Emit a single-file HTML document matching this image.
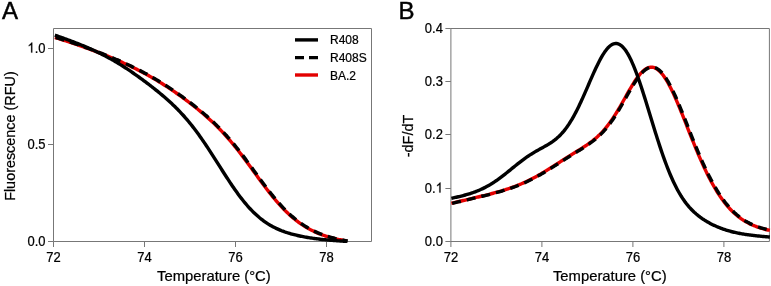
<!DOCTYPE html>
<html><head><meta charset="utf-8"><style>
html,body{margin:0;padding:0;background:#fff;}
body{width:771px;height:286px;overflow:hidden;}
svg{display:block;will-change:transform;}
text{font-family:"Liberation Sans",sans-serif;fill:#000;stroke:#000;stroke-width:0.22px;}
.tk{font-size:13px;}
.lg{font-size:12px;}
.ax{font-size:14.4px;}
.ax2{font-size:14.8px;}
.pl{font-size:24px;stroke-width:0.45px;}
</style></head><body>
<svg width="771" height="286" viewBox="0 0 771 286">
<rect width="771" height="286" fill="#fff"/>
<path d="M53.5 28.5 H371.5 V241.5 H53.5 Z" fill="none" stroke="#777" stroke-width="1"/>
<line x1="53.5" y1="241.5" x2="53.5" y2="247.0" stroke="#777" stroke-width="1"/>
<text transform="translate(53.5 261.6) scale(1 1.08)" text-anchor="middle" class="tk">72</text>
<line x1="144.5" y1="241.5" x2="144.5" y2="247.0" stroke="#777" stroke-width="1"/>
<text transform="translate(144.5 261.6) scale(1 1.08)" text-anchor="middle" class="tk">74</text>
<line x1="235.5" y1="241.5" x2="235.5" y2="247.0" stroke="#777" stroke-width="1"/>
<text transform="translate(235.5 261.6) scale(1 1.08)" text-anchor="middle" class="tk">76</text>
<line x1="326.5" y1="241.5" x2="326.5" y2="247.0" stroke="#777" stroke-width="1"/>
<text transform="translate(326.5 261.6) scale(1 1.08)" text-anchor="middle" class="tk">78</text>
<line x1="48.0" y1="241.5" x2="53.5" y2="241.5" stroke="#777" stroke-width="1"/>
<text transform="translate(45.5 245.6) scale(1 1.08)" text-anchor="end" class="tk">0.0</text>
<line x1="48.0" y1="144.5" x2="53.5" y2="144.5" stroke="#777" stroke-width="1"/>
<text transform="translate(45.5 148.6) scale(1 1.08)" text-anchor="end" class="tk">0.5</text>
<line x1="48.0" y1="48.5" x2="53.5" y2="48.5" stroke="#777" stroke-width="1"/>
<path d="M372 0H284V560Q252 530 200 499Q148 469 106 453V538Q182 574 239 625Q296 676 320 716H372Z" transform="translate(27.430 52.600) scale(0.01300 -0.01404)" fill="#000" stroke="#000" stroke-width="16.92"/>
<text transform="translate(34.658 52.600) scale(1 1.08)" class="tk">.</text>
<text transform="translate(38.272 52.600) scale(1 1.08)" class="tk">0</text><path d="M450.9 28.5 H769.4 V241.5 H450.9 Z" fill="none" stroke="#777" stroke-width="1"/>
<line x1="450.9" y1="241.5" x2="450.9" y2="247.0" stroke="#777" stroke-width="1"/>
<text transform="translate(450.9 261.6) scale(1 1.08)" text-anchor="middle" class="tk">72</text>
<line x1="541.9" y1="241.5" x2="541.9" y2="247.0" stroke="#777" stroke-width="1"/>
<text transform="translate(541.9 261.6) scale(1 1.08)" text-anchor="middle" class="tk">74</text>
<line x1="632.9" y1="241.5" x2="632.9" y2="247.0" stroke="#777" stroke-width="1"/>
<text transform="translate(632.9 261.6) scale(1 1.08)" text-anchor="middle" class="tk">76</text>
<line x1="723.9" y1="241.5" x2="723.9" y2="247.0" stroke="#777" stroke-width="1"/>
<text transform="translate(723.9 261.6) scale(1 1.08)" text-anchor="middle" class="tk">78</text>
<line x1="445.4" y1="241.5" x2="450.9" y2="241.5" stroke="#777" stroke-width="1"/>
<text transform="translate(442.9 245.6) scale(1 1.08)" text-anchor="end" class="tk">0.0</text>
<line x1="445.4" y1="188.5" x2="450.9" y2="188.5" stroke="#777" stroke-width="1"/>
<text transform="translate(424.830 192.600) scale(1 1.08)" class="tk">0</text>
<text transform="translate(432.058 192.600) scale(1 1.08)" class="tk">.</text>
<path d="M372 0H284V560Q252 530 200 499Q148 469 106 453V538Q182 574 239 625Q296 676 320 716H372Z" transform="translate(435.672 192.600) scale(0.01300 -0.01404)" fill="#000" stroke="#000" stroke-width="16.92"/>
<line x1="445.4" y1="134.5" x2="450.9" y2="134.5" stroke="#777" stroke-width="1"/>
<text transform="translate(442.9 138.6) scale(1 1.08)" text-anchor="end" class="tk">0.2</text>
<line x1="445.4" y1="81.5" x2="450.9" y2="81.5" stroke="#777" stroke-width="1"/>
<text transform="translate(442.9 85.6) scale(1 1.08)" text-anchor="end" class="tk">0.3</text>
<line x1="445.4" y1="28.5" x2="450.9" y2="28.5" stroke="#777" stroke-width="1"/>
<text transform="translate(442.9 32.6) scale(1 1.08)" text-anchor="end" class="tk">0.4</text>

<path d="M54.87 37.86 L55.99 38.20 L57.11 38.54 L58.24 38.89 L59.36 39.24 L60.48 39.59 L61.61 39.94 L62.73 40.30 L63.85 40.66 L64.98 41.02 L66.10 41.38 L67.22 41.75 L68.35 42.12 L69.47 42.49 L70.59 42.86 L71.72 43.24 L72.84 43.61 L73.96 43.99 L75.09 44.38 L76.21 44.76 L77.33 45.15 L78.46 45.54 L79.58 45.93 L80.71 46.32 L81.83 46.72 L82.95 47.12 L84.08 47.52 L85.20 47.93 L86.32 48.33 L87.45 48.74 L88.57 49.15 L89.69 49.57 L90.82 49.98 L91.94 50.40 L93.06 50.82 L94.19 51.25 L95.31 51.67 L96.43 52.10 L97.56 52.53 L98.68 52.97 L99.81 53.41 L100.93 53.85 L102.05 54.29 L103.18 54.74 L104.30 55.18 L105.42 55.64 L106.55 56.09 L107.67 56.55 L108.79 57.01 L109.92 57.48 L111.04 57.94 L112.16 58.41 L113.29 58.89 L114.41 59.37 L115.53 59.85 L116.66 60.33 L117.78 60.82 L118.90 61.32 L120.03 61.81 L121.15 62.31 L122.28 62.82 L123.40 63.33 L124.52 63.84 L125.65 64.36 L126.77 64.88 L127.89 65.41 L129.02 65.94 L130.14 66.47 L131.26 67.01 L132.39 67.56 L133.51 68.11 L134.63 68.66 L135.76 69.22 L136.88 69.79 L138.00 70.36 L139.13 70.94 L140.25 71.52 L141.37 72.11 L142.50 72.70 L143.62 73.30 L144.74 73.91 L145.87 74.52 L146.99 75.14 L148.12 75.76 L149.24 76.39 L150.36 77.02 L151.49 77.66 L152.61 78.31 L153.73 78.97 L154.86 79.63 L155.98 80.29 L157.10 80.97 L158.23 81.65 L159.35 82.33 L160.47 83.02 L161.60 83.72 L162.72 84.43 L163.84 85.14 L164.97 85.86 L166.09 86.58 L167.22 87.31 L168.34 88.05 L169.46 88.79 L170.59 89.54 L171.71 90.30 L172.83 91.06 L173.96 91.83 L175.08 92.60 L176.20 93.39 L177.33 94.17 L178.45 94.97 L179.57 95.77 L180.70 96.57 L181.82 97.38 L182.94 98.20 L184.07 99.03 L185.19 99.86 L186.31 100.70 L187.44 101.54 L188.56 102.39 L189.69 103.25 L190.81 104.11 L191.93 104.98 L193.06 105.86 L194.18 106.75 L195.30 107.64 L196.43 108.54 L197.55 109.45 L198.67 110.37 L199.80 111.29 L200.92 112.23 L202.04 113.17 L203.17 114.13 L204.29 115.09 L205.41 116.06 L206.54 117.05 L207.66 118.05 L208.78 119.06 L209.91 120.08 L211.03 121.11 L212.16 122.16 L213.28 123.22 L214.40 124.30 L215.53 125.39 L216.65 126.49 L217.77 127.61 L218.90 128.75 L220.02 129.90 L221.14 131.07 L222.27 132.26 L223.39 133.46 L224.51 134.68 L225.64 135.92 L226.76 137.17 L227.88 138.45 L229.01 139.74 L230.13 141.05 L231.25 142.38 L232.38 143.72 L233.50 145.08 L234.62 146.46 L235.75 147.86 L236.87 149.27 L238.00 150.70 L239.12 152.14 L240.24 153.59 L241.37 155.06 L242.49 156.54 L243.61 158.04 L244.74 159.54 L245.86 161.06 L246.98 162.58 L248.11 164.11 L249.23 165.65 L250.35 167.19 L251.48 168.74 L252.60 170.29 L253.72 171.84 L254.85 173.40 L255.97 174.95 L257.10 176.49 L258.22 178.04 L259.34 179.58 L260.47 181.11 L261.59 182.64 L262.71 184.16 L263.84 185.66 L264.96 187.16 L266.08 188.64 L267.21 190.11 L268.33 191.56 L269.45 193.00 L270.58 194.42 L271.70 195.83 L272.82 197.21 L273.95 198.58 L275.07 199.92 L276.19 201.25 L277.32 202.55 L278.44 203.83 L279.57 205.08 L280.69 206.32 L281.81 207.53 L282.94 208.71 L284.06 209.87 L285.18 211.01 L286.31 212.12 L287.43 213.21 L288.55 214.27 L289.68 215.30 L290.80 216.32 L291.92 217.30 L293.05 218.26 L294.17 219.19 L295.29 220.10 L296.42 220.99 L297.54 221.85 L298.66 222.69 L299.79 223.50 L300.91 224.29 L302.03 225.05 L303.16 225.79 L304.28 226.51 L305.41 227.21 L306.53 227.88 L307.65 228.53 L308.78 229.17 L309.90 229.78 L311.02 230.37 L312.15 230.94 L313.27 231.49 L314.39 232.02 L315.52 232.54 L316.64 233.04 L317.76 233.51 L318.89 233.98 L320.01 234.42 L321.13 234.85 L322.26 235.27 L323.38 235.67 L324.51 236.05 L325.63 236.42 L326.75 236.78 L327.88 237.12 L329.00 237.46 L330.12 237.78 L331.25 238.08 L332.37 238.38 L333.49 238.67 L334.62 238.94 L335.74 239.21 L336.86 239.46 L337.99 239.71 L339.11 239.95 L340.23 240.18 L341.36 240.40 L342.48 240.61 L343.60 240.82 L344.73 241.02 L345.85 241.21 L346.98 241.40" fill="none" stroke="#e30000" stroke-width="3.4" stroke-linejoin="round" transform="translate(0 -0.4)"/>
<path d="M54.87 37.86 L55.99 38.20 L57.11 38.54 L58.24 38.89 L59.36 39.24 L60.48 39.59 L61.61 39.94 L62.73 40.30 L63.85 40.66 L64.98 41.02 L66.10 41.38 L67.22 41.75 L68.35 42.12 L69.47 42.49 L70.59 42.86 L71.72 43.24 L72.84 43.61 L73.96 43.99 L75.09 44.38 L76.21 44.76 L77.33 45.15 L78.46 45.54 L79.58 45.93 L80.71 46.32 L81.83 46.72 L82.95 47.12 L84.08 47.52 L85.20 47.93 L86.32 48.33 L87.45 48.74 L88.57 49.15 L89.69 49.57 L90.82 49.98 L91.94 50.40 L93.06 50.82 L94.19 51.25 L95.31 51.67 L96.43 52.10 L97.56 52.53 L98.68 52.97 L99.81 53.41 L100.93 53.85 L102.05 54.29 L103.18 54.74 L104.30 55.18 L105.42 55.64 L106.55 56.09 L107.67 56.55 L108.79 57.01 L109.92 57.48 L111.04 57.94 L112.16 58.41 L113.29 58.89 L114.41 59.37 L115.53 59.85 L116.66 60.33 L117.78 60.82 L118.90 61.32 L120.03 61.81 L121.15 62.31 L122.28 62.82 L123.40 63.33 L124.52 63.84 L125.65 64.36 L126.77 64.88 L127.89 65.41 L129.02 65.94 L130.14 66.47 L131.26 67.01 L132.39 67.56 L133.51 68.11 L134.63 68.66 L135.76 69.22 L136.88 69.79 L138.00 70.36 L139.13 70.94 L140.25 71.52 L141.37 72.11 L142.50 72.70 L143.62 73.30 L144.74 73.91 L145.87 74.52 L146.99 75.14 L148.12 75.76 L149.24 76.39 L150.36 77.02 L151.49 77.66 L152.61 78.31 L153.73 78.97 L154.86 79.63 L155.98 80.29 L157.10 80.97 L158.23 81.65 L159.35 82.33 L160.47 83.02 L161.60 83.72 L162.72 84.43 L163.84 85.14 L164.97 85.86 L166.09 86.58 L167.22 87.31 L168.34 88.05 L169.46 88.79 L170.59 89.54 L171.71 90.30 L172.83 91.06 L173.96 91.83 L175.08 92.60 L176.20 93.39 L177.33 94.17 L178.45 94.97 L179.57 95.77 L180.70 96.57 L181.82 97.38 L182.94 98.20 L184.07 99.03 L185.19 99.86 L186.31 100.70 L187.44 101.54 L188.56 102.39 L189.69 103.25 L190.81 104.11 L191.93 104.98 L193.06 105.86 L194.18 106.75 L195.30 107.64 L196.43 108.54 L197.55 109.45 L198.67 110.37 L199.80 111.29 L200.92 112.23 L202.04 113.17 L203.17 114.13 L204.29 115.09 L205.41 116.06 L206.54 117.05 L207.66 118.05 L208.78 119.06 L209.91 120.08 L211.03 121.11 L212.16 122.16 L213.28 123.22 L214.40 124.30 L215.53 125.39 L216.65 126.49 L217.77 127.61 L218.90 128.75 L220.02 129.90 L221.14 131.07 L222.27 132.26 L223.39 133.46 L224.51 134.68 L225.64 135.92 L226.76 137.17 L227.88 138.45 L229.01 139.74 L230.13 141.05 L231.25 142.38 L232.38 143.72 L233.50 145.08 L234.62 146.46 L235.75 147.86 L236.87 149.27 L238.00 150.70 L239.12 152.14 L240.24 153.59 L241.37 155.06 L242.49 156.54 L243.61 158.04 L244.74 159.54 L245.86 161.06 L246.98 162.58 L248.11 164.11 L249.23 165.65 L250.35 167.19 L251.48 168.74 L252.60 170.29 L253.72 171.84 L254.85 173.40 L255.97 174.95 L257.10 176.49 L258.22 178.04 L259.34 179.58 L260.47 181.11 L261.59 182.64 L262.71 184.16 L263.84 185.66 L264.96 187.16 L266.08 188.64 L267.21 190.11 L268.33 191.56 L269.45 193.00 L270.58 194.42 L271.70 195.83 L272.82 197.21 L273.95 198.58 L275.07 199.92 L276.19 201.25 L277.32 202.55 L278.44 203.83 L279.57 205.08 L280.69 206.32 L281.81 207.53 L282.94 208.71 L284.06 209.87 L285.18 211.01 L286.31 212.12 L287.43 213.21 L288.55 214.27 L289.68 215.30 L290.80 216.32 L291.92 217.30 L293.05 218.26 L294.17 219.19 L295.29 220.10 L296.42 220.99 L297.54 221.85 L298.66 222.69 L299.79 223.50 L300.91 224.29 L302.03 225.05 L303.16 225.79 L304.28 226.51 L305.41 227.21 L306.53 227.88 L307.65 228.53 L308.78 229.17 L309.90 229.78 L311.02 230.37 L312.15 230.94 L313.27 231.49 L314.39 232.02 L315.52 232.54 L316.64 233.04 L317.76 233.51 L318.89 233.98 L320.01 234.42 L321.13 234.85 L322.26 235.27 L323.38 235.67 L324.51 236.05 L325.63 236.42 L326.75 236.78 L327.88 237.12 L329.00 237.46 L330.12 237.78 L331.25 238.08 L332.37 238.38 L333.49 238.67 L334.62 238.94 L335.74 239.21 L336.86 239.46 L337.99 239.71 L339.11 239.95 L340.23 240.18 L341.36 240.40 L342.48 240.61 L343.60 240.82 L344.73 241.02 L345.85 241.21 L346.98 241.40" fill="none" stroke="#000" stroke-width="3.4" stroke-dasharray="9 6" transform="translate(0.8 -0.4)"/>
<path d="M54.87 35.17 L55.99 35.56 L57.11 35.95 L58.24 36.34 L59.36 36.74 L60.48 37.13 L61.61 37.53 L62.73 37.94 L63.85 38.34 L64.98 38.75 L66.10 39.16 L67.22 39.57 L68.35 39.99 L69.47 40.41 L70.59 40.83 L71.72 41.25 L72.84 41.68 L73.96 42.11 L75.09 42.55 L76.21 42.98 L77.33 43.43 L78.46 43.87 L79.58 44.32 L80.71 44.77 L81.83 45.23 L82.95 45.69 L84.08 46.16 L85.20 46.63 L86.32 47.10 L87.45 47.58 L88.57 48.07 L89.69 48.56 L90.82 49.05 L91.94 49.56 L93.06 50.06 L94.19 50.58 L95.31 51.10 L96.43 51.62 L97.56 52.16 L98.68 52.70 L99.81 53.24 L100.93 53.80 L102.05 54.36 L103.18 54.93 L104.30 55.50 L105.42 56.09 L106.55 56.68 L107.67 57.28 L108.79 57.88 L109.92 58.50 L111.04 59.12 L112.16 59.76 L113.29 60.39 L114.41 61.04 L115.53 61.70 L116.66 62.36 L117.78 63.04 L118.90 63.72 L120.03 64.41 L121.15 65.10 L122.28 65.81 L123.40 66.52 L124.52 67.24 L125.65 67.97 L126.77 68.70 L127.89 69.45 L129.02 70.20 L130.14 70.95 L131.26 71.72 L132.39 72.49 L133.51 73.27 L134.63 74.05 L135.76 74.84 L136.88 75.63 L138.00 76.44 L139.13 77.24 L140.25 78.06 L141.37 78.88 L142.50 79.70 L143.62 80.53 L144.74 81.37 L145.87 82.21 L146.99 83.06 L148.12 83.91 L149.24 84.77 L150.36 85.63 L151.49 86.50 L152.61 87.38 L153.73 88.26 L154.86 89.15 L155.98 90.05 L157.10 90.95 L158.23 91.86 L159.35 92.78 L160.47 93.71 L161.60 94.65 L162.72 95.59 L163.84 96.55 L164.97 97.52 L166.09 98.50 L167.22 99.49 L168.34 100.49 L169.46 101.51 L170.59 102.54 L171.71 103.59 L172.83 104.65 L173.96 105.73 L175.08 106.82 L176.20 107.93 L177.33 109.06 L178.45 110.21 L179.57 111.38 L180.70 112.57 L181.82 113.78 L182.94 115.01 L184.07 116.26 L185.19 117.53 L186.31 118.82 L187.44 120.14 L188.56 121.48 L189.69 122.85 L190.81 124.23 L191.93 125.64 L193.06 127.08 L194.18 128.53 L195.30 130.01 L196.43 131.51 L197.55 133.04 L198.67 134.58 L199.80 136.15 L200.92 137.74 L202.04 139.35 L203.17 140.98 L204.29 142.62 L205.41 144.28 L206.54 145.96 L207.66 147.66 L208.78 149.37 L209.91 151.09 L211.03 152.83 L212.16 154.57 L213.28 156.32 L214.40 158.08 L215.53 159.85 L216.65 161.62 L217.77 163.39 L218.90 165.17 L220.02 166.94 L221.14 168.71 L222.27 170.48 L223.39 172.24 L224.51 173.99 L225.64 175.74 L226.76 177.47 L227.88 179.20 L229.01 180.91 L230.13 182.60 L231.25 184.28 L232.38 185.93 L233.50 187.57 L234.62 189.19 L235.75 190.78 L236.87 192.35 L238.00 193.90 L239.12 195.42 L240.24 196.91 L241.37 198.38 L242.49 199.81 L243.61 201.22 L244.74 202.60 L245.86 203.94 L246.98 205.25 L248.11 206.54 L249.23 207.78 L250.35 209.00 L251.48 210.18 L252.60 211.33 L253.72 212.45 L254.85 213.54 L255.97 214.59 L257.10 215.61 L258.22 216.59 L259.34 217.55 L260.47 218.47 L261.59 219.36 L262.71 220.22 L263.84 221.05 L264.96 221.85 L266.08 222.62 L267.21 223.37 L268.33 224.08 L269.45 224.77 L270.58 225.43 L271.70 226.07 L272.82 226.68 L273.95 227.27 L275.07 227.83 L276.19 228.38 L277.32 228.90 L278.44 229.40 L279.57 229.88 L280.69 230.34 L281.81 230.79 L282.94 231.21 L284.06 231.62 L285.18 232.02 L286.31 232.39 L287.43 232.76 L288.55 233.11 L289.68 233.45 L290.80 233.77 L291.92 234.08 L293.05 234.38 L294.17 234.67 L295.29 234.95 L296.42 235.22 L297.54 235.48 L298.66 235.74 L299.79 235.98 L300.91 236.21 L302.03 236.44 L303.16 236.66 L304.28 236.87 L305.41 237.07 L306.53 237.27 L307.65 237.46 L308.78 237.65 L309.90 237.83 L311.02 238.00 L312.15 238.17 L313.27 238.33 L314.39 238.48 L315.52 238.63 L316.64 238.78 L317.76 238.92 L318.89 239.06 L320.01 239.19 L321.13 239.32 L322.26 239.45 L323.38 239.57 L324.51 239.68 L325.63 239.79 L326.75 239.90 L327.88 240.01 L329.00 240.11 L330.12 240.21 L331.25 240.31 L332.37 240.40 L333.49 240.49 L334.62 240.58 L335.74 240.67 L336.86 240.75 L337.99 240.83 L339.11 240.91 L340.23 240.98 L341.36 241.06 L342.48 241.13 L343.60 241.20 L344.73 241.27 L345.85 241.33 L346.98 241.40" fill="none" stroke="#000" stroke-width="3.4" stroke-linejoin="round"/>
<path d="M451.36 203.38 L452.35 203.14 L453.35 202.90 L454.34 202.66 L455.34 202.42 L456.33 202.18 L457.33 201.94 L458.32 201.70 L459.32 201.47 L460.31 201.23 L461.31 200.99 L462.30 200.76 L463.30 200.52 L464.29 200.28 L465.29 200.05 L466.28 199.81 L467.28 199.58 L468.28 199.34 L469.27 199.11 L470.27 198.87 L471.26 198.64 L472.26 198.40 L473.25 198.17 L474.25 197.93 L475.24 197.69 L476.24 197.46 L477.23 197.22 L478.23 196.98 L479.22 196.74 L480.22 196.50 L481.21 196.26 L482.21 196.02 L483.21 195.78 L484.20 195.53 L485.20 195.29 L486.19 195.04 L487.19 194.79 L488.18 194.54 L489.18 194.29 L490.17 194.03 L491.17 193.77 L492.16 193.51 L493.16 193.25 L494.15 192.98 L495.15 192.71 L496.14 192.44 L497.14 192.16 L498.13 191.88 L499.13 191.60 L500.13 191.31 L501.12 191.02 L502.12 190.72 L503.11 190.42 L504.11 190.11 L505.10 189.80 L506.10 189.48 L507.09 189.16 L508.09 188.83 L509.08 188.49 L510.08 188.15 L511.07 187.80 L512.07 187.45 L513.06 187.09 L514.06 186.72 L515.06 186.35 L516.05 185.97 L517.05 185.58 L518.04 185.18 L519.04 184.78 L520.03 184.37 L521.03 183.95 L522.02 183.52 L523.02 183.08 L524.01 182.64 L525.01 182.19 L526.00 181.73 L527.00 181.26 L527.99 180.78 L528.99 180.30 L529.98 179.80 L530.98 179.30 L531.98 178.79 L532.97 178.27 L533.97 177.75 L534.96 177.21 L535.96 176.67 L536.95 176.12 L537.95 175.57 L538.94 175.00 L539.94 174.43 L540.93 173.86 L541.93 173.27 L542.92 172.68 L543.92 172.09 L544.91 171.49 L545.91 170.88 L546.90 170.27 L547.90 169.66 L548.90 169.04 L549.89 168.41 L550.89 167.79 L551.88 167.16 L552.88 166.53 L553.87 165.89 L554.87 165.26 L555.86 164.62 L556.86 163.98 L557.85 163.34 L558.85 162.71 L559.84 162.07 L560.84 161.43 L561.83 160.79 L562.83 160.16 L563.83 159.52 L564.82 158.89 L565.82 158.26 L566.81 157.63 L567.81 157.00 L568.80 156.38 L569.80 155.76 L570.79 155.14 L571.79 154.52 L572.78 153.90 L573.78 153.28 L574.77 152.66 L575.77 152.05 L576.76 151.43 L577.76 150.81 L578.76 150.20 L579.75 149.57 L580.75 148.95 L581.74 148.32 L582.74 147.68 L583.73 147.04 L584.73 146.39 L585.72 145.73 L586.72 145.06 L587.71 144.38 L588.71 143.69 L589.70 142.97 L590.70 142.25 L591.69 141.50 L592.69 140.73 L593.68 139.94 L594.68 139.13 L595.68 138.29 L596.67 137.42 L597.67 136.53 L598.66 135.60 L599.66 134.64 L600.65 133.65 L601.65 132.62 L602.64 131.55 L603.64 130.45 L604.63 129.31 L605.63 128.13 L606.62 126.90 L607.62 125.64 L608.61 124.34 L609.61 122.99 L610.61 121.61 L611.60 120.18 L612.60 118.72 L613.59 117.21 L614.59 115.67 L615.58 114.10 L616.58 112.49 L617.57 110.85 L618.57 109.18 L619.56 107.49 L620.56 105.77 L621.55 104.03 L622.55 102.28 L623.54 100.52 L624.54 98.75 L625.53 96.98 L626.53 95.21 L627.53 93.45 L628.52 91.70 L629.52 89.97 L630.51 88.26 L631.51 86.58 L632.50 84.93 L633.50 83.33 L634.49 81.77 L635.49 80.26 L636.48 78.81 L637.48 77.42 L638.47 76.10 L639.47 74.86 L640.46 73.69 L641.46 72.60 L642.46 71.60 L643.45 70.70 L644.45 69.89 L645.44 69.18 L646.44 68.57 L647.43 68.08 L648.43 67.69 L649.42 67.41 L650.42 67.24 L651.41 67.19 L652.41 67.26 L653.40 67.44 L654.40 67.74 L655.39 68.16 L656.39 68.69 L657.38 69.34 L658.38 70.10 L659.38 70.97 L660.37 71.96 L661.37 73.05 L662.36 74.25 L663.36 75.55 L664.35 76.95 L665.35 78.45 L666.34 80.04 L667.34 81.72 L668.33 83.48 L669.33 85.32 L670.32 87.24 L671.32 89.22 L672.31 91.28 L673.31 93.39 L674.31 95.57 L675.30 97.80 L676.30 100.07 L677.29 102.39 L678.29 104.75 L679.28 107.14 L680.28 109.56 L681.27 112.01 L682.27 114.48 L683.26 116.96 L684.26 119.46 L685.25 121.97 L686.25 124.49 L687.24 127.01 L688.24 129.52 L689.23 132.04 L690.23 134.54 L691.23 137.03 L692.22 139.52 L693.22 141.98 L694.21 144.43 L695.21 146.85 L696.20 149.25 L697.20 151.63 L698.19 153.98 L699.19 156.30 L700.18 158.59 L701.18 160.85 L702.17 163.08 L703.17 165.27 L704.16 167.42 L705.16 169.54 L706.15 171.61 L707.15 173.65 L708.15 175.65 L709.14 177.61 L710.14 179.53 L711.13 181.40 L712.13 183.24 L713.12 185.03 L714.12 186.78 L715.11 188.48 L716.11 190.14 L717.10 191.76 L718.10 193.34 L719.09 194.87 L720.09 196.36 L721.08 197.81 L722.08 199.22 L723.08 200.58 L724.07 201.90 L725.07 203.19 L726.06 204.43 L727.06 205.63 L728.05 206.79 L729.05 207.91 L730.04 208.99 L731.04 210.04 L732.03 211.05 L733.03 212.02 L734.02 212.96 L735.02 213.86 L736.01 214.73 L737.01 215.57 L738.01 216.38 L739.00 217.15 L740.00 217.89 L740.99 218.61 L741.99 219.29 L742.98 219.95 L743.98 220.58 L744.97 221.19 L745.97 221.77 L746.96 222.33 L747.96 222.86 L748.95 223.38 L749.95 223.87 L750.94 224.34 L751.94 224.79 L752.93 225.22 L753.93 225.64 L754.93 226.04 L755.92 226.42 L756.92 226.78 L757.91 227.14 L758.91 227.47 L759.90 227.80 L760.90 228.11 L761.89 228.41 L762.89 228.70 L763.88 228.97 L764.88 229.24 L765.87 229.50 L766.87 229.74 L767.86 229.98 L768.86 230.21 L769.86 230.43" fill="none" stroke="#e30000" stroke-width="3.4" stroke-linejoin="round"/>
<path d="M451.36 203.38 L452.35 203.14 L453.35 202.90 L454.34 202.66 L455.34 202.42 L456.33 202.18 L457.33 201.94 L458.32 201.70 L459.32 201.47 L460.31 201.23 L461.31 200.99 L462.30 200.76 L463.30 200.52 L464.29 200.28 L465.29 200.05 L466.28 199.81 L467.28 199.58 L468.28 199.34 L469.27 199.11 L470.27 198.87 L471.26 198.64 L472.26 198.40 L473.25 198.17 L474.25 197.93 L475.24 197.69 L476.24 197.46 L477.23 197.22 L478.23 196.98 L479.22 196.74 L480.22 196.50 L481.21 196.26 L482.21 196.02 L483.21 195.78 L484.20 195.53 L485.20 195.29 L486.19 195.04 L487.19 194.79 L488.18 194.54 L489.18 194.29 L490.17 194.03 L491.17 193.77 L492.16 193.51 L493.16 193.25 L494.15 192.98 L495.15 192.71 L496.14 192.44 L497.14 192.16 L498.13 191.88 L499.13 191.60 L500.13 191.31 L501.12 191.02 L502.12 190.72 L503.11 190.42 L504.11 190.11 L505.10 189.80 L506.10 189.48 L507.09 189.16 L508.09 188.83 L509.08 188.49 L510.08 188.15 L511.07 187.80 L512.07 187.45 L513.06 187.09 L514.06 186.72 L515.06 186.35 L516.05 185.97 L517.05 185.58 L518.04 185.18 L519.04 184.78 L520.03 184.37 L521.03 183.95 L522.02 183.52 L523.02 183.08 L524.01 182.64 L525.01 182.19 L526.00 181.73 L527.00 181.26 L527.99 180.78 L528.99 180.30 L529.98 179.80 L530.98 179.30 L531.98 178.79 L532.97 178.27 L533.97 177.75 L534.96 177.21 L535.96 176.67 L536.95 176.12 L537.95 175.57 L538.94 175.00 L539.94 174.43 L540.93 173.86 L541.93 173.27 L542.92 172.68 L543.92 172.09 L544.91 171.49 L545.91 170.88 L546.90 170.27 L547.90 169.66 L548.90 169.04 L549.89 168.41 L550.89 167.79 L551.88 167.16 L552.88 166.53 L553.87 165.89 L554.87 165.26 L555.86 164.62 L556.86 163.98 L557.85 163.34 L558.85 162.71 L559.84 162.07 L560.84 161.43 L561.83 160.79 L562.83 160.16 L563.83 159.52 L564.82 158.89 L565.82 158.26 L566.81 157.63 L567.81 157.00 L568.80 156.38 L569.80 155.76 L570.79 155.14 L571.79 154.52 L572.78 153.90 L573.78 153.28 L574.77 152.66 L575.77 152.05 L576.76 151.43 L577.76 150.81 L578.76 150.20 L579.75 149.57 L580.75 148.95 L581.74 148.32 L582.74 147.68 L583.73 147.04 L584.73 146.39 L585.72 145.73 L586.72 145.06 L587.71 144.38 L588.71 143.69 L589.70 142.97 L590.70 142.25 L591.69 141.50 L592.69 140.73 L593.68 139.94 L594.68 139.13 L595.68 138.29 L596.67 137.42 L597.67 136.53 L598.66 135.60 L599.66 134.64 L600.65 133.65 L601.65 132.62 L602.64 131.55 L603.64 130.45 L604.63 129.31 L605.63 128.13 L606.62 126.90 L607.62 125.64 L608.61 124.34 L609.61 122.99 L610.61 121.61 L611.60 120.18 L612.60 118.72 L613.59 117.21 L614.59 115.67 L615.58 114.10 L616.58 112.49 L617.57 110.85 L618.57 109.18 L619.56 107.49 L620.56 105.77 L621.55 104.03 L622.55 102.28 L623.54 100.52 L624.54 98.75 L625.53 96.98 L626.53 95.21 L627.53 93.45 L628.52 91.70 L629.52 89.97 L630.51 88.26 L631.51 86.58 L632.50 84.93 L633.50 83.33 L634.49 81.77 L635.49 80.26 L636.48 78.81 L637.48 77.42 L638.47 76.10 L639.47 74.86 L640.46 73.69 L641.46 72.60 L642.46 71.60 L643.45 70.70 L644.45 69.89 L645.44 69.18 L646.44 68.57 L647.43 68.08 L648.43 67.69 L649.42 67.41 L650.42 67.24 L651.41 67.19 L652.41 67.26 L653.40 67.44 L654.40 67.74 L655.39 68.16 L656.39 68.69 L657.38 69.34 L658.38 70.10 L659.38 70.97 L660.37 71.96 L661.37 73.05 L662.36 74.25 L663.36 75.55 L664.35 76.95 L665.35 78.45 L666.34 80.04 L667.34 81.72 L668.33 83.48 L669.33 85.32 L670.32 87.24 L671.32 89.22 L672.31 91.28 L673.31 93.39 L674.31 95.57 L675.30 97.80 L676.30 100.07 L677.29 102.39 L678.29 104.75 L679.28 107.14 L680.28 109.56 L681.27 112.01 L682.27 114.48 L683.26 116.96 L684.26 119.46 L685.25 121.97 L686.25 124.49 L687.24 127.01 L688.24 129.52 L689.23 132.04 L690.23 134.54 L691.23 137.03 L692.22 139.52 L693.22 141.98 L694.21 144.43 L695.21 146.85 L696.20 149.25 L697.20 151.63 L698.19 153.98 L699.19 156.30 L700.18 158.59 L701.18 160.85 L702.17 163.08 L703.17 165.27 L704.16 167.42 L705.16 169.54 L706.15 171.61 L707.15 173.65 L708.15 175.65 L709.14 177.61 L710.14 179.53 L711.13 181.40 L712.13 183.24 L713.12 185.03 L714.12 186.78 L715.11 188.48 L716.11 190.14 L717.10 191.76 L718.10 193.34 L719.09 194.87 L720.09 196.36 L721.08 197.81 L722.08 199.22 L723.08 200.58 L724.07 201.90 L725.07 203.19 L726.06 204.43 L727.06 205.63 L728.05 206.79 L729.05 207.91 L730.04 208.99 L731.04 210.04 L732.03 211.05 L733.03 212.02 L734.02 212.96 L735.02 213.86 L736.01 214.73 L737.01 215.57 L738.01 216.38 L739.00 217.15 L740.00 217.89 L740.99 218.61 L741.99 219.29 L742.98 219.95 L743.98 220.58 L744.97 221.19 L745.97 221.77 L746.96 222.33 L747.96 222.86 L748.95 223.38 L749.95 223.87 L750.94 224.34 L751.94 224.79 L752.93 225.22 L753.93 225.64 L754.93 226.04 L755.92 226.42 L756.92 226.78 L757.91 227.14 L758.91 227.47 L759.90 227.80 L760.90 228.11 L761.89 228.41 L762.89 228.70 L763.88 228.97 L764.88 229.24 L765.87 229.50 L766.87 229.74 L767.86 229.98 L768.86 230.21 L769.86 230.43" fill="none" stroke="#000" stroke-width="3.4" stroke-dasharray="9 6" transform="translate(0.8 0)"/>
<path d="M451.36 198.34 L452.35 198.12 L453.35 197.90 L454.34 197.68 L455.34 197.46 L456.33 197.23 L457.33 197.00 L458.32 196.77 L459.32 196.53 L460.31 196.29 L461.31 196.04 L462.30 195.79 L463.30 195.53 L464.29 195.26 L465.29 194.99 L466.28 194.71 L467.28 194.42 L468.28 194.13 L469.27 193.82 L470.27 193.51 L471.26 193.19 L472.26 192.85 L473.25 192.51 L474.25 192.15 L475.24 191.79 L476.24 191.41 L477.23 191.02 L478.23 190.61 L479.22 190.19 L480.22 189.76 L481.21 189.31 L482.21 188.85 L483.21 188.37 L484.20 187.88 L485.20 187.38 L486.19 186.85 L487.19 186.31 L488.18 185.76 L489.18 185.19 L490.17 184.60 L491.17 184.00 L492.16 183.38 L493.16 182.75 L494.15 182.10 L495.15 181.43 L496.14 180.75 L497.14 180.06 L498.13 179.35 L499.13 178.63 L500.13 177.90 L501.12 177.15 L502.12 176.39 L503.11 175.63 L504.11 174.85 L505.10 174.07 L506.10 173.28 L507.09 172.48 L508.09 171.68 L509.08 170.87 L510.08 170.06 L511.07 169.25 L512.07 168.44 L513.06 167.62 L514.06 166.81 L515.06 166.01 L516.05 165.20 L517.05 164.41 L518.04 163.62 L519.04 162.83 L520.03 162.06 L521.03 161.29 L522.02 160.54 L523.02 159.80 L524.01 159.06 L525.01 158.34 L526.00 157.64 L527.00 156.95 L527.99 156.27 L528.99 155.60 L529.98 154.95 L530.98 154.31 L531.98 153.69 L532.97 153.08 L533.97 152.47 L534.96 151.89 L535.96 151.31 L536.95 150.74 L537.95 150.18 L538.94 149.62 L539.94 149.07 L540.93 148.52 L541.93 147.98 L542.92 147.43 L543.92 146.88 L544.91 146.32 L545.91 145.76 L546.90 145.18 L547.90 144.59 L548.90 143.99 L549.89 143.36 L550.89 142.72 L551.88 142.05 L552.88 141.35 L553.87 140.62 L554.87 139.86 L555.86 139.06 L556.86 138.23 L557.85 137.35 L558.85 136.43 L559.84 135.46 L560.84 134.44 L561.83 133.37 L562.83 132.25 L563.83 131.08 L564.82 129.84 L565.82 128.55 L566.81 127.20 L567.81 125.79 L568.80 124.33 L569.80 122.80 L570.79 121.21 L571.79 119.55 L572.78 117.85 L573.78 116.08 L574.77 114.25 L575.77 112.37 L576.76 110.44 L577.76 108.45 L578.76 106.42 L579.75 104.34 L580.75 102.22 L581.74 100.06 L582.74 97.86 L583.73 95.64 L584.73 93.39 L585.72 91.12 L586.72 88.84 L587.71 86.55 L588.71 84.25 L589.70 81.95 L590.70 79.67 L591.69 77.39 L592.69 75.14 L593.68 72.91 L594.68 70.72 L595.68 68.57 L596.67 66.46 L597.67 64.41 L598.66 62.42 L599.66 60.50 L600.65 58.64 L601.65 56.87 L602.64 55.19 L603.64 53.59 L604.63 52.09 L605.63 50.70 L606.62 49.42 L607.62 48.25 L608.61 47.19 L609.61 46.27 L610.61 45.46 L611.60 44.79 L612.60 44.26 L613.59 43.86 L614.59 43.60 L615.58 43.49 L616.58 43.51 L617.57 43.69 L618.57 44.01 L619.56 44.48 L620.56 45.09 L621.55 45.85 L622.55 46.76 L623.54 47.81 L624.54 49.00 L625.53 50.33 L626.53 51.80 L627.53 53.41 L628.52 55.14 L629.52 57.01 L630.51 58.99 L631.51 61.10 L632.50 63.32 L633.50 65.65 L634.49 68.09 L635.49 70.62 L636.48 73.25 L637.48 75.96 L638.47 78.75 L639.47 81.62 L640.46 84.56 L641.46 87.56 L642.46 90.61 L643.45 93.72 L644.45 96.86 L645.44 100.04 L646.44 103.26 L647.43 106.49 L648.43 109.74 L649.42 113.00 L650.42 116.26 L651.41 119.52 L652.41 122.78 L653.40 126.02 L654.40 129.24 L655.39 132.44 L656.39 135.61 L657.38 138.74 L658.38 141.84 L659.38 144.89 L660.37 147.90 L661.37 150.85 L662.36 153.76 L663.36 156.60 L664.35 159.39 L665.35 162.11 L666.34 164.77 L667.34 167.36 L668.33 169.89 L669.33 172.35 L670.32 174.73 L671.32 177.04 L672.31 179.29 L673.31 181.46 L674.31 183.56 L675.30 185.58 L676.30 187.54 L677.29 189.42 L678.29 191.24 L679.28 192.99 L680.28 194.67 L681.27 196.29 L682.27 197.84 L683.26 199.33 L684.26 200.76 L685.25 202.13 L686.25 203.44 L687.24 204.71 L688.24 205.91 L689.23 207.07 L690.23 208.18 L691.23 209.25 L692.22 210.27 L693.22 211.26 L694.21 212.20 L695.21 213.10 L696.20 213.97 L697.20 214.81 L698.19 215.62 L699.19 216.39 L700.18 217.14 L701.18 217.86 L702.17 218.56 L703.17 219.23 L704.16 219.89 L705.16 220.51 L706.15 221.12 L707.15 221.71 L708.15 222.29 L709.14 222.84 L710.14 223.38 L711.13 223.90 L712.13 224.41 L713.12 224.90 L714.12 225.37 L715.11 225.83 L716.11 226.28 L717.10 226.71 L718.10 227.13 L719.09 227.54 L720.09 227.93 L721.08 228.32 L722.08 228.69 L723.08 229.04 L724.07 229.39 L725.07 229.72 L726.06 230.04 L727.06 230.35 L728.05 230.65 L729.05 230.94 L730.04 231.22 L731.04 231.48 L732.03 231.74 L733.03 231.99 L734.02 232.23 L735.02 232.46 L736.01 232.68 L737.01 232.89 L738.01 233.09 L739.00 233.29 L740.00 233.48 L740.99 233.66 L741.99 233.83 L742.98 234.00 L743.98 234.16 L744.97 234.32 L745.97 234.47 L746.96 234.62 L747.96 234.76 L748.95 234.89 L749.95 235.03 L750.94 235.15 L751.94 235.28 L752.93 235.40 L753.93 235.51 L754.93 235.63 L755.92 235.74 L756.92 235.84 L757.91 235.95 L758.91 236.05 L759.90 236.15 L760.90 236.25 L761.89 236.34 L762.89 236.44 L763.88 236.53 L764.88 236.62 L765.87 236.71 L766.87 236.79 L767.86 236.88 L768.86 236.96 L769.86 237.04" fill="none" stroke="#000" stroke-width="3.4" stroke-linejoin="round"/>


<line x1="295" y1="39.9" x2="318" y2="39.9" stroke="#000" stroke-width="3.4"/>
<line x1="295" y1="57.6" x2="318" y2="57.6" stroke="#000" stroke-width="3.4" stroke-dasharray="9 5"/>
<line x1="295" y1="75.0" x2="318" y2="75.0" stroke="#e30000" stroke-width="3.4"/>
<text x="330" y="44.4" class="lg">R408</text>
<text x="330" y="62.4" class="lg">R408S</text>
<text x="330" y="79.6" class="lg">BA.2</text>


<text x="2" y="18.9" class="pl">A</text>
<text x="398.6" y="18.9" class="pl">B</text>
<text x="213.9" y="281" text-anchor="middle" class="ax2">Temperature (&#176;C)</text>
<text x="609.8" y="281" text-anchor="middle" class="ax2">Temperature (&#176;C)</text>
<text transform="translate(15 136.1) rotate(-90)" text-anchor="middle" class="ax">Fluorescence (RFU)</text>
<text transform="translate(413 136) rotate(-90)" text-anchor="middle" class="ax">-dF/dT</text>

</svg>
</body></html>
